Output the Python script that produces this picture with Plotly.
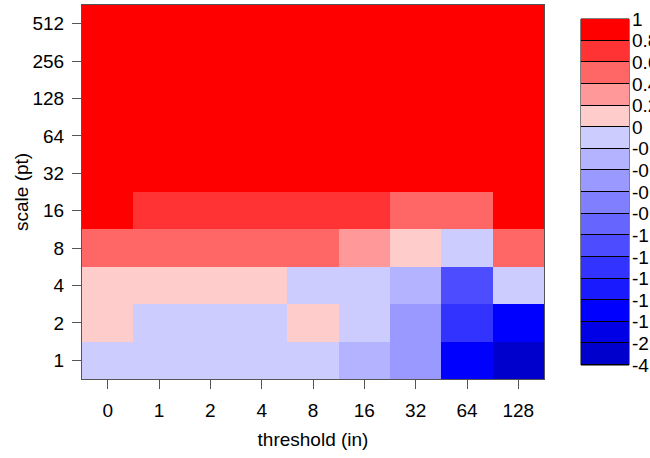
import numpy as np
import plotly.graph_objects as go

thresholds = ["0", "1", "2", "4", "8", "16", "32", "64", "128"]
scales = ["1", "2", "4", "8", "16", "32", "64", "128", "256", "512"]

# values per scale row (bottom to top), columns follow thresholds
row_1 = [-0.1, -0.1, -0.1, -0.1, -0.1, -0.3, -0.5, -1.7, -2.5]
row_2 = [0.1, -0.1, -0.1, -0.1, 0.1, -0.1, -0.5, -1.3, -1.7]
row_4 = [0.1, 0.1, 0.1, 0.1, -0.1, -0.1, -0.3, -1.1, -0.1]
row_8 = [0.5, 0.5, 0.5, 0.5, 0.5, 0.3, 0.1, -0.1, 0.5]
row_16 = [0.9, 0.7, 0.7, 0.7, 0.7, 0.7, 0.5, 0.5, 0.9]
row_32 = [0.9, 0.9, 0.9, 0.9, 0.9, 0.9, 0.9, 0.9, 0.9]
row_64 = [0.9, 0.9, 0.9, 0.9, 0.9, 0.9, 0.9, 0.9, 0.9]
row_128 = [0.9, 0.9, 0.9, 0.9, 0.9, 0.9, 0.9, 0.9, 0.9]
row_256 = [0.9, 0.9, 0.9, 0.9, 0.9, 0.9, 0.9, 0.9, 0.9]
row_512 = [0.9, 0.9, 0.9, 0.9, 0.9, 0.9, 0.9, 0.9, 0.9]

breaks = [-4, -2, -1.8, -1.6, -1.4, -1.2, -1, -0.8, -0.6, -0.4, -0.2,
          0, 0.2, 0.4, 0.6, 0.8, 1]
break_labels = ["-4", "-2", "-1.8", "-1.6", "-1.4", "-1.2", "-1", "-0.8", "-0.6",
                "-0.4", "-0.2", "0", "0.2", "0.4", "0.6", "0.8", "1"]
bin_colors = ["#0000CC", "#0000E6", "#0000FF", "#1A1AFF", "#3333FF", "#4D4DFF",
              "#6666FF", "#8080FF", "#9999FF", "#B3B3FF", "#CCCCFF",
              "#FFCCCC", "#FF9999", "#FF6666", "#FF3333", "#FF0000"]

values = np.array([row_1, row_2, row_4, row_8, row_16, row_32, row_64,
                   row_128, row_256, row_512])
nb = len(bin_colors)
z_idx = np.clip(np.digitize(values, breaks) - 1, 0, nb - 1)

cscale = []
for i, c in enumerate(bin_colors):
    cscale.append([i / nb, c])
    cscale.append([(i + 1) / nb, c])

FONT = "Liberation Sans, Arial, Helvetica, sans-serif"
FS = 19
GRAY = "#555555"

fig = go.Figure()
fig.add_trace(go.Heatmap(
    x=thresholds, y=scales, z=z_idx, colorscale=cscale,
    zmin=-0.5, zmax=nb - 0.5, showscale=False, hoverinfo="skip",
    xaxis="x", yaxis="y"))

fig.add_trace(go.Heatmap(
    x=[0], y=list(range(nb)), z=[[i] for i in range(nb)], colorscale=cscale,
    zmin=-0.5, zmax=nb - 0.5, showscale=False, ygap=1, hoverinfo="skip",
    xaxis="x2", yaxis="y2"))

W, H = 650, 458
L, R, T, B = 82, 21, 5, 79
pw = W - L - R
ph = H - T - B
x_main_end = (544 - L) / pw
x_cb_start = (581 - L) / pw
y_cb_top = 1 - (19 - T) / ph
y_cb_bot = 1 - (365 - T) / ph

fig.add_shape(type="rect", xref="x2 domain", yref="y2 domain", x0=0, x1=1,
              y0=0, y1=1, fillcolor="black", line=dict(color="black", width=1),
              layer="below")

fig.add_annotation(text="scale (pt)", xref="paper", yref="paper",
                   x=(21 - L) / pw, y=0.5, textangle=-90, showarrow=False,
                   xanchor="center", yanchor="middle",
                   font=dict(family=FONT, size=FS, color="black"))

fig.update_layout(
    width=W, height=H, template="none",
    margin=dict(l=L, r=R, t=T, b=B, autoexpand=False),
    paper_bgcolor="white", plot_bgcolor="white",
    font=dict(family=FONT, size=FS, color="black"),
    xaxis=dict(domain=[0, x_main_end], type="category", showgrid=False,
               zeroline=False, showline=True, mirror=True, linecolor=GRAY,
               linewidth=1, ticks="outside", ticklen=9, tickcolor=GRAY,
               tickwidth=1, ticklabelstandoff=5, automargin=False,
               tickfont=dict(size=FS),
               title=dict(text="threshold (in)", standoff=12,
                          font=dict(size=FS))),
    yaxis=dict(domain=[0, 1], type="category", showgrid=False,
               zeroline=False, showline=True, mirror=True, linecolor=GRAY,
               linewidth=1, ticks="outside", ticklen=9, tickcolor=GRAY,
               tickwidth=1, ticklabelstandoff=4, automargin=False,
               tickfont=dict(size=FS)),
    xaxis2=dict(domain=[x_cb_start, 1], anchor="y2", range=[-0.5, 0.5],
                visible=False, fixedrange=True),
    yaxis2=dict(domain=[y_cb_bot, y_cb_top], anchor="x2", side="right",
                range=[-0.5, nb - 0.5], showgrid=False, zeroline=False,
                showline=False, ticks="", automargin=False,
                tickmode="array", tickfont=dict(size=FS),
                tickvals=[i - 0.5 for i in range(nb + 1)],
                ticktext=break_labels, ticklabelstandoff=2),
)

fig.write_html("out.html", config={"displayModeBar": False},
               post_script="document.body.style.margin='0';")
